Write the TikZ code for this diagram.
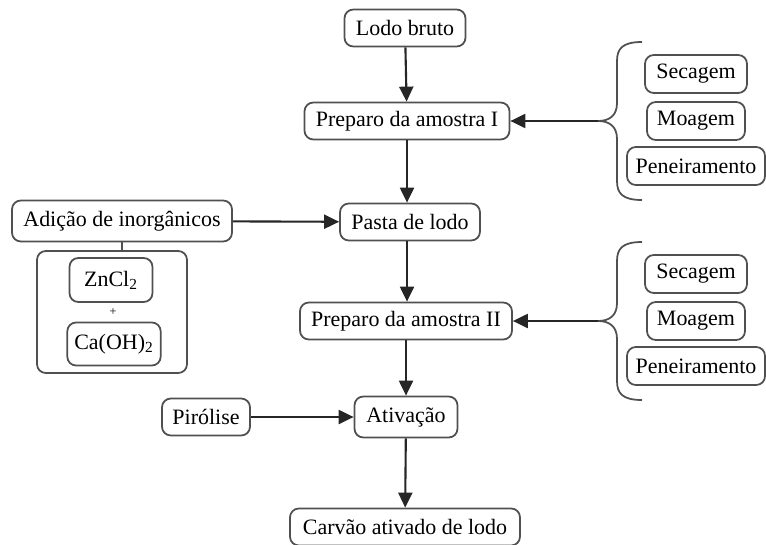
\documentclass[tikz,border=0pt]{standalone}
\usepackage{fontspec}
\setmainfont{Liberation Serif}
\usetikzlibrary{arrows.meta, positioning}
\definecolor{boxline}{HTML}{505050}
\tikzset{
	etapa/.style={draw=boxline, line width=1pt, rounded corners=5pt,
		fill=white, minimum height=0.74cm, inner xsep=4pt, align=center,
		font=\rmfamily\fontsize{12.5}{14}\selectfont},
	sub/.style={etapa, minimum height=0.76cm},
	seta/.style={-{Triangle[length=3mm, width=2.8mm]}, line width=1.2pt, black!85},
	chave/.style={line width=1pt, boxline},
}
\begin{document}
\begin{tikzpicture}[x=0.02cm, y=-0.02cm]
		\useasboundingbox (0,0) rectangle (766,544);
		% fluxo principal
		\node[etapa, minimum width=2.42cm] (lodo) at (405,28) {Lodo bruto};
		\node[etapa, minimum width=4.1cm] (prep1) at (407,121) {Preparo da amostra I};
		\node[etapa, minimum width=2.8cm] (pasta) at (410,222) {Pasta de lodo};
		\node[etapa, minimum width=4.24cm] (prep2) at (406,321) {Preparo da amostra II};
		\node[etapa, minimum width=2.06cm, minimum height=0.82cm] (ativ) at (406,417) {Ativação};
		\node[etapa, minimum width=4.6cm] (carvao) at (405,527) {Carvão ativado de lodo};
		% entradas laterais
		\node[etapa, minimum width=4.4cm, minimum height=0.82cm] (adicao) at (122,221) {Adição de inorgânicos};
		\node[etapa, minimum width=1.76cm] (pirolise) at (206,417) {Pirólise};
		\draw[etapa] (37,251) rectangle (187,373);
		\node[sub, minimum width=1.66cm, minimum height=0.88cm] (zncl) at (111,280) {ZnCl\textsubscript{2}};
		\node[font=\scriptsize] (mais) at (113,312) {+};
		\node[sub, minimum width=1.76cm, minimum height=0.86cm] (caoh) at (114,344) {Ca(OH)\textsubscript{2}};
		\draw[chave] (adicao.south) -- (122,251);
		% tratamentos
		\foreach \y/\n in {121/a, 321/b} {
			\node[sub, minimum width=2.04cm] (sec\n) at (696,\y-47) {Secagem};
			\node[sub, minimum width=1.96cm] (moa\n) at (696,\y) {Moagem};
			\node[sub, minimum width=2.76cm] (pen\n) at (696,\y+45) {Peneiramento};
			\draw[chave] (642,\y-79) .. controls (622,\y-79) and (617,\y-72) .. (617,\y-60)
				-- (617,\y-18) .. controls (617,\y-6) and (610,\y) .. (598,\y)
				.. controls (610,\y) and (617,\y+6) .. (617,\y+18)
				-- (617,\y+60) .. controls (617,\y+72) and (622,\y+79) .. (642,\y+79);
			\coordinate (ponta\n) at (598,\y);
		}
		% setas
		\draw[seta] (lodo) -- (prep1);
		\draw[seta] (prep1) -- (prep1 |- pasta.north);
		\draw[seta] (adicao) -- (pasta);
		\draw[seta] (prep1 |- pasta.south) -- (prep1 |- prep2.north);
		\draw[seta] (prep2) -- (ativ);
		\draw[seta] (pirolise) -- (ativ);
		\draw[seta] (ativ) -- (carvao);
		\draw[seta] (pontaa) -- (prep1);
		\draw[seta] (pontab) -- (prep2);
	\end{tikzpicture}
\end{document}
